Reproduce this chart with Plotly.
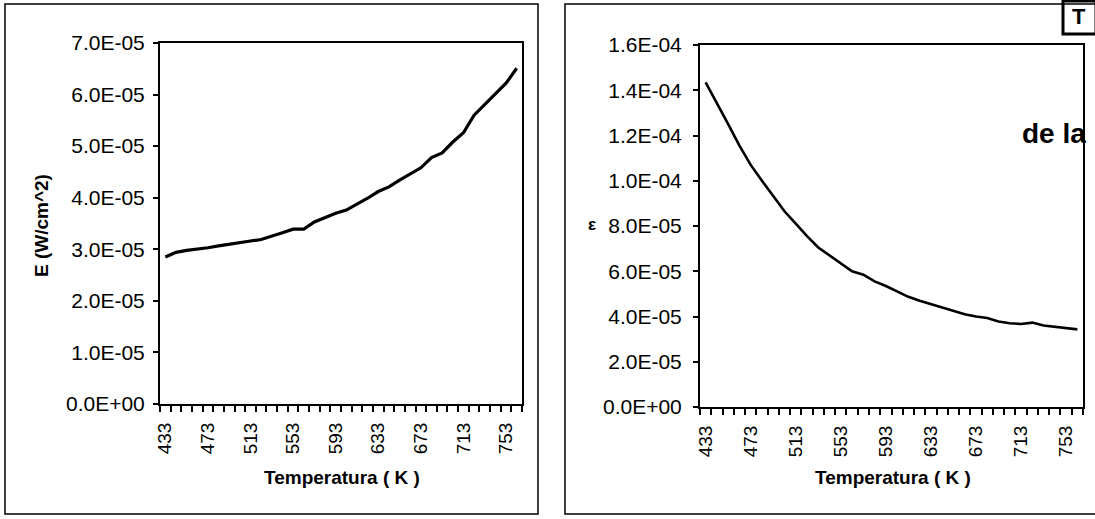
import plotly.graph_objects as go

# ---------------- data ----------------
temperatures = [433, 443, 453, 463, 473, 483, 493, 503, 513, 523, 533, 543,
                553, 563, 573, 583, 593, 603, 613, 623, 633, 643, 653, 663,
                673, 683, 693, 703, 713, 723, 733, 743, 753, 763]

emission_E = [2.85e-5, 2.94e-5, 2.98e-5, 3.00e-5, 3.03e-5, 3.065e-5, 3.10e-5, 3.14e-5,
              3.16e-5, 3.19e-5, 3.25e-5, 3.32e-5, 3.39e-5, 3.39e-5, 3.53e-5, 3.61e-5,
              3.70e-5, 3.76e-5, 3.87e-5, 3.99e-5, 4.12e-5, 4.21e-5, 4.34e-5, 4.46e-5,
              4.58e-5, 4.78e-5, 4.87e-5, 5.08e-5, 5.26e-5, 5.60e-5, 5.81e-5, 6.00e-5,
              6.22e-5, 6.51e-5]

emissivity_eps = [14.35e-5, 13.45e-5, 12.5e-5, 11.55e-5, 10.7e-5, 10.0e-5, 9.3e-5, 8.65e-5,
                  8.1e-5, 7.55e-5, 7.05e-5, 6.70e-5, 6.35e-5, 6.00e-5, 5.85e-5, 5.55e-5,
                  5.35e-5, 5.10e-5, 4.87e-5, 4.70e-5, 4.55e-5, 4.40e-5, 4.25e-5, 4.10e-5,
                  4.00e-5, 3.93e-5, 3.78e-5, 3.70e-5, 3.67e-5, 3.73e-5, 3.60e-5, 3.55e-5,
                  3.50e-5, 3.43e-5]

x_tick_values = [433, 473, 513, 553, 593, 633, 673, 713, 753]
x_tick_labels = ["433", "473", "513", "553", "593", "633", "673", "713", "753"]

y1_tick_values = [0, 1e-5, 2e-5, 3e-5, 4e-5, 5e-5, 6e-5, 7e-5]
y1_tick_labels = ["0.0E+00", "1.0E-05", "2.0E-05", "3.0E-05", "4.0E-05",
                  "5.0E-05", "6.0E-05", "7.0E-05"]

y2_tick_values = [0, 2e-5, 4e-5, 6e-5, 8e-5, 10e-5, 12e-5, 14e-5, 16e-5]
y2_tick_labels = ["0.0E+00", "2.0E-05", "4.0E-05", "6.0E-05", "8.0E-05",
                  "1.0E-04", "1.2E-04", "1.4E-04", "1.6E-04"]

x_title = "Temperatura ( K )"
y1_title = "E (W/cm^2)"
y2_title = "ε"

# ---------------- layout helpers ----------------
W, H = 1095, 519
FONT = "Liberation Sans, Arial, sans-serif"


def px(x):
    return x / W


def py(y):
    return (H - y) / H


fig = go.Figure()
fig.add_trace(go.Scatter(x=temperatures, y=emission_E, mode="lines",
                         line=dict(color="black", width=3.2),
                         xaxis="x", yaxis="y", showlegend=False))
fig.add_trace(go.Scatter(x=temperatures, y=emissivity_eps, mode="lines",
                         line=dict(color="black", width=2.6),
                         xaxis="x2", yaxis="y2", showlegend=False))

xcommon = dict(range=[428, 768], tickmode="array", tickvals=x_tick_values,
               ticktext=x_tick_labels, tickangle=-90, ticks="outside", ticklen=0,
               tickfont=dict(family=FONT, size=19, color="black"),
               showline=True, linecolor="black", linewidth=2, mirror=True,
               showgrid=False, zeroline=False, ticklabelstandoff=9,
               automargin=False,
               minor=dict(ticks="outside", tick0=428, dtick=10, ticklen=6,
                          tickwidth=1.5, tickcolor="black", showgrid=False))

ycommon = dict(tickmode="array", ticks="outside", ticklen=5, tickwidth=1.5,
               tickcolor="black", tickfont=dict(family=FONT, size=21, color="black"),
               showline=True, linecolor="black", linewidth=2, mirror=True,
               showgrid=False, zeroline=False, automargin=False)

fig.update_layout(
    width=W, height=H,
    margin=dict(l=0, r=0, t=0, b=0, autoexpand=False),
    paper_bgcolor="white", plot_bgcolor="white",
    xaxis=dict(domain=[px(160), px(522)], anchor="y", **xcommon),
    yaxis=dict(domain=[py(404), py(43)], anchor="x", range=[0, 7e-5],
               tickvals=y1_tick_values, ticktext=y1_tick_labels,
               ticklabelstandoff=4, **ycommon),
    xaxis2=dict(domain=[px(700), px(1083)], anchor="y2", **xcommon),
    yaxis2=dict(domain=[py(407), py(45)], anchor="x2", range=[0, 1.6e-4],
                tickvals=y2_tick_values, ticktext=y2_tick_labels,
                ticklabelstandoff=7, **ycommon),
)

annotations = [
    dict(text="<b>" + x_title + "</b>", x=px(342), y=py(477), textangle=0,
         font=dict(family=FONT, size=19, color="black")),
    dict(text="<b>" + x_title + "</b>", x=px(893), y=py(477), textangle=0,
         font=dict(family=FONT, size=19, color="black")),
    dict(text="<b>" + y1_title + "</b>", x=px(42), y=py(226), textangle=-90,
         font=dict(family=FONT, size=19, color="black")),
    dict(text="<b>" + y2_title + "</b>", x=px(592), y=py(224), textangle=0,
         font=dict(family=FONT, size=17, color="black")),
]
for a in annotations:
    fig.add_annotation(xref="paper", yref="paper", showarrow=False,
                       xanchor="center", yanchor="middle", **a)

# scan artefacts visible in the reference page
fig.add_annotation(text="<b>de la</b>", x=px(1020), y=py(133), xref="paper",
                   yref="paper", showarrow=False, xanchor="left", yanchor="middle",
                   font=dict(family=FONT, size=28, color="black"))
fig.add_annotation(text="<b>T</b>", x=px(1079), y=py(17), xref="paper",
                   yref="paper", showarrow=False, xanchor="center", yanchor="middle",
                   font=dict(family=FONT, size=22, color="black"))

shapes = [
    dict(type="rect", x0=px(5), x1=px(538), y0=py(514), y1=py(4),
         line=dict(color="black", width=1.5)),
    dict(type="rect", x0=px(565), x1=px(1100), y0=py(514), y1=py(4),
         line=dict(color="black", width=1.5)),
    dict(type="rect", x0=px(1063), x1=px(1096), y0=py(34), y1=py(1),
         line=dict(color="black", width=3)),
]
for s in shapes:
    fig.add_shape(xref="paper", yref="paper", **s)

fig.write_html("out.html",
               config={"displayModeBar": False},
               post_script="document.body.style.margin='0';"
                           "document.body.style.overflow='hidden';")
